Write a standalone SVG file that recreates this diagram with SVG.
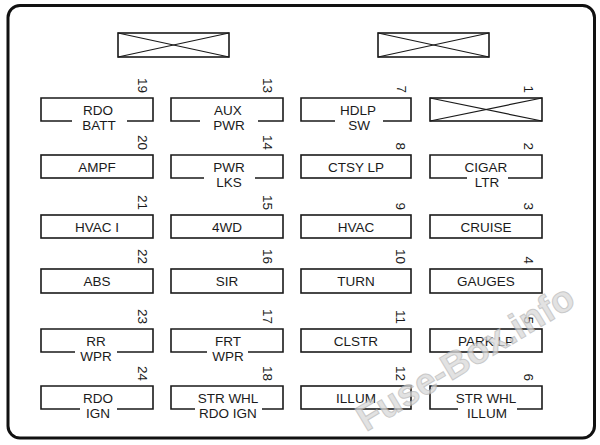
<svg xmlns="http://www.w3.org/2000/svg" width="600" height="445" viewBox="0 0 600 445">
<style>
.frame{fill:#fff;stroke:#111;stroke-width:3}
.box{fill:#fff;stroke:#1a1a1a;stroke-width:1.6}
.open{fill:none;stroke:#1a1a1a;stroke-width:1.6}
.x{stroke:#1a1a1a;stroke-width:1.2}
.lbl{font-family:"Liberation Sans",Arial,sans-serif;font-size:13.5px;fill:#1a1a1a;text-anchor:middle}
.num{font-family:"Liberation Sans",Arial,sans-serif;font-size:13.5px;fill:#1a1a1a;text-anchor:end}
.wm{font-family:"Liberation Sans",Arial,sans-serif;font-size:37px;font-weight:bold;fill:#d9d9d9;stroke:#b8b8b8;stroke-width:1;opacity:0.75}
</style>
<rect class="frame" x="8" y="5.5" width="586.5" height="432.5" rx="12"/>
<g id="relay-left"><rect class="box" x="118" y="33" width="111" height="24"/><line class="x" x1="118" y1="33" x2="229" y2="57"/><line class="x" x1="118" y1="57" x2="229" y2="33"/></g>
<g id="relay-right"><rect class="box" x="378" y="33" width="111" height="24"/><line class="x" x1="378" y1="33" x2="489" y2="57"/><line class="x" x1="378" y1="57" x2="489" y2="33"/></g>

<!-- column 1 -->
<g id="f19"><path class="open" d="M72,121H41V98H153V121H127"/><text class="lbl" x="98" y="115">RDO</text><text class="lbl" x="99" y="130">BATT</text><text class="num" transform="translate(138,93) rotate(90)">19</text></g>
<g id="f20"><rect class="box" x="41" y="155" width="112" height="23"/><text class="lbl" x="97" y="172">AMPF</text><text class="num" transform="translate(138,150) rotate(90)">20</text></g>
<g id="f21"><rect class="box" x="41" y="215" width="112" height="23"/><text class="lbl" x="97" y="232">HVAC I</text><text class="num" transform="translate(138,210) rotate(90)">21</text></g>
<g id="f22"><rect class="box" x="41" y="269" width="112" height="24"/><text class="lbl" x="97" y="286">ABS</text><text class="num" transform="translate(138,264) rotate(90)">22</text></g>
<g id="f23"><path class="open" d="M75,352H41V329H153V352H117"/><text class="lbl" x="96" y="346">RR</text><text class="lbl" x="96" y="361">WPR</text><text class="num" transform="translate(138,324) rotate(90)">23</text></g>
<g id="f24"><path class="open" d="M80,409H41V386H153V409H117"/><text class="lbl" x="98" y="403">RDO</text><text class="lbl" x="98" y="418">IGN</text><text class="num" transform="translate(138,381) rotate(90)">24</text></g>

<!-- column 2 -->
<g id="f13"><path class="open" d="M200,121H171V98H283V121H258"/><text class="lbl" x="228" y="115">AUX</text><text class="lbl" x="229" y="130">PWR</text><text class="num" transform="translate(263,93) rotate(90)">13</text></g>
<g id="f14"><path class="open" d="M204,178H171V155H283V178H255"/><text class="lbl" x="229" y="172">PWR</text><text class="lbl" x="229" y="187">LKS</text><text class="num" transform="translate(263,150) rotate(90)">14</text></g>
<g id="f15"><rect class="box" x="171" y="215" width="112" height="23"/><text class="lbl" x="227" y="232">4WD</text><text class="num" transform="translate(263,210) rotate(90)">15</text></g>
<g id="f16"><rect class="box" x="171" y="269" width="112" height="24"/><text class="lbl" x="227" y="286">SIR</text><text class="num" transform="translate(263,264) rotate(90)">16</text></g>
<g id="f17"><path class="open" d="M207,352H171V329H283V352H248"/><text class="lbl" x="228" y="346">FRT</text><text class="lbl" x="228" y="361">WPR</text><text class="num" transform="translate(263,324) rotate(90)">17</text></g>
<g id="f18"><path class="open" d="M195,409H171V386H283V409H262"/><text class="lbl" x="228" y="403">STR WHL</text><text class="lbl" x="228" y="418">RDO IGN</text><text class="num" transform="translate(263,381) rotate(90)">18</text></g>

<!-- column 3 -->
<g id="f7"><path class="open" d="M335,121H301V98H411V121H383"/><text class="lbl" x="358" y="115">HDLP</text><text class="lbl" x="359" y="130">SW</text><text class="num" transform="translate(397,93) rotate(90)">7</text></g>
<g id="f8"><rect class="box" x="301" y="155" width="110" height="23"/><text class="lbl" x="356" y="172">CTSY LP</text><text class="num" transform="translate(396,150) rotate(90)">8</text></g>
<g id="f9"><rect class="box" x="301" y="215" width="110" height="23"/><text class="lbl" x="356" y="232">HVAC</text><text class="num" transform="translate(396,210) rotate(90)">9</text></g>
<g id="f10"><rect class="box" x="301" y="269" width="110" height="24"/><text class="lbl" x="356" y="286">TURN</text><text class="num" transform="translate(396,264) rotate(90)">10</text></g>
<g id="f11"><rect class="box" x="301" y="329" width="110" height="23"/><text class="lbl" x="356" y="346">CLSTR</text><text class="num" transform="translate(396,324) rotate(90)">11</text></g>
<g id="f12"><rect class="box" x="301" y="386" width="110" height="23"/><text class="lbl" x="356" y="403">ILLUM</text><text class="num" transform="translate(396,381) rotate(90)">12</text></g>

<!-- column 4 -->
<g id="f1"><rect class="box" x="430" y="98" width="112" height="23"/><line class="x" x1="430" y1="98" x2="542" y2="121"/><line class="x" x1="430" y1="121" x2="542" y2="98"/><text class="num" transform="translate(524,93) rotate(90)">1</text></g>
<g id="f2"><path class="open" d="M467,178H430V155H542V178H508"/><text class="lbl" x="486" y="172">CIGAR</text><text class="lbl" x="487" y="187">LTR</text><text class="num" transform="translate(524,150) rotate(90)">2</text></g>
<g id="f3"><rect class="box" x="430" y="215" width="112" height="23"/><text class="lbl" x="486" y="232">CRUISE</text><text class="num" transform="translate(524,210) rotate(90)">3</text></g>
<g id="f4"><rect class="box" x="430" y="269" width="112" height="24"/><text class="lbl" x="486" y="286">GAUGES</text><text class="num" transform="translate(524,264) rotate(90)">4</text></g>
<g id="f5"><rect class="box" x="430" y="329" width="112" height="23"/><text class="lbl" x="486" y="346">PARK LP</text><text class="num" transform="translate(524,324) rotate(90)">5</text></g>
<g id="f6"><path class="open" d="M458,409H430V386H542V409H517"/><text class="lbl" x="486" y="403">STR WHL</text><text class="lbl" x="487" y="418">ILLUM</text><text class="num" transform="translate(524,381) rotate(90)">6</text></g>

<g id="connectors"/>
<text class="wm" transform="translate(366,432) rotate(-31)">Fuse-Box.info</text>
</svg>
